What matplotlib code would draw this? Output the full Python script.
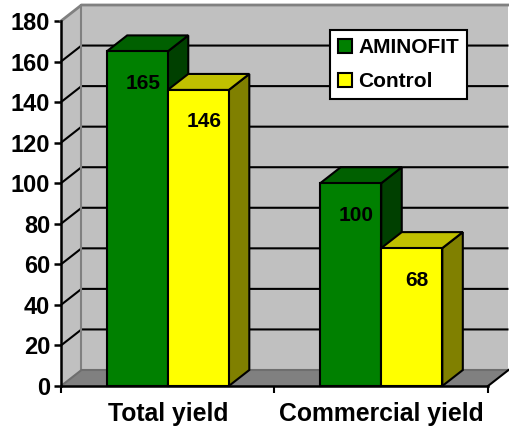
import matplotlib
matplotlib.use("Agg")
import matplotlib.pyplot as plt
from matplotlib.patches import Polygon, Patch

plt.rcParams['font.family'] = ['Liberation Sans', 'DejaVu Sans']
plt.rcParams['font.weight'] = 'bold'

categories = ['Total yield', 'Commercial yield']
aminofit = [165, 100]
control = [146, 68]
yticks = list(range(0, 181, 20))

W, H = 510, 434
X0, X1, Y0, Y1 = 61, 488, 386, 21
DX_PX, DY_PX = 20.5, 16
LW = 1.5

fig = plt.figure(figsize=(W / 100, H / 100), dpi=100)
ax = fig.add_axes([X0 / W, 1 - Y0 / H, (X1 - X0) / W, (Y0 - Y1) / H])
ax.set_xlim(0, 2)
ax.set_ylim(0, 180)
dx = DX_PX / (X1 - X0) * 2
dy = DY_PX / (Y0 - Y1) * 180
BAR = 0.286

def poly(pts, fc, ec='none', lw=0, z=1):
    ax.add_patch(Polygon(pts, closed=True, facecolor=fc, edgecolor=ec, linewidth=lw,
                         zorder=z, clip_on=False, joinstyle='miter'))

# Walls and floor
poly([(dx, dy), (2 + dx, dy), (2 + dx, 180 + dy), (dx, 180 + dy)], '#C0C0C0')
poly([(0, 0), (dx, dy), (dx, 180 + dy), (0, 180)], '#C0C0C0')
poly([(0, 0), (2, 0), (2 + dx, dy), (dx, dy)], '#808080')

# Gridlines
for v in yticks[1:-1]:
    ax.plot([0, dx, 2 + dx], [v, v + dy, v + dy], color='black', lw=LW, zorder=2,
            clip_on=False, solid_capstyle='butt')

# Wall edges
ax.plot([0, dx, 2 + dx], [180, 180 + dy, 180 + dy], color='#808080', lw=LW + 0.5, zorder=2, clip_on=False)
ax.plot([dx, dx], [dy, 180 + dy], color='#808080', lw=LW, zorder=2, clip_on=False)
ax.plot([0, dx, 2 + dx], [0, dy, dy], color='#6E6E6E', lw=LW, zorder=2, clip_on=False)
ax.plot([2, 2 + dx], [0, dy], color='black', lw=LW, zorder=2, clip_on=False)

# Bars
series = [(aminofit, '#008000', '#006000', '#004000', -BAR / 2, 'AMINOFIT'),
          (control, '#FFFF00', '#C0C000', '#808000', BAR / 2, 'Control')]
for s, (vals, front, top, side, off, name) in enumerate(series):
    for i, v in enumerate(vals):
        c = i + 0.5 + off
        l, r = c - BAR / 2, c + BAR / 2
        z = 3 + i * 3 + s * 3
        poly([(r, 0), (r + dx, dy), (r + dx, v + dy), (r, v)], side, 'black', LW, z)
        poly([(l, v), (r, v), (r + dx, v + dy), (l + dx, v + dy)], top, 'black', LW, z)
        ax.bar(c, v, width=BAR, color=front, edgecolor='black', linewidth=LW, zorder=z + 1, clip_on=False)
        ax.annotate(str(v), (c, v), xytext=(4.0, -23), textcoords='offset points',
                    ha='center', va='center', fontsize=15, fontweight='bold', color='black',
                    zorder=30, annotation_clip=False)

# Axes
for sp in ('top', 'right'):
    ax.spines[sp].set_visible(False)
for sp in ('left', 'bottom'):
    ax.spines[sp].set_linewidth(LW + 0.3)
    ax.spines[sp].set_zorder(20)
ax.set_yticks(yticks)
ax.tick_params(axis='y', labelsize=17, width=LW + 0.3, length=5, pad=2.8)
ax.set_xticks([0, 1, 2])
ax.set_xticklabels([])
ax.tick_params(axis='x', width=LW, length=5)
ax.set_xticks([0.5, 1.5], minor=True)
ax.set_xticklabels(categories, minor=True, fontsize=17.8, fontweight='bold')
ax.tick_params(axis='x', which='minor', length=0, pad=11.5)

# Legend
handles = [Patch(facecolor=series[0][1], edgecolor='black', linewidth=LW, label='AMINOFIT'),
           Patch(facecolor=series[1][1], edgecolor='black', linewidth=LW, label='Control')]
leg = ax.legend(handles=handles, loc='upper left',
                bbox_to_anchor=(330 / W, 1 - 30.5 / H), bbox_transform=fig.transFigure,
                prop={'size': 15, 'weight': 'bold'}, fancybox=False, framealpha=1,
                facecolor='white', edgecolor='black', borderaxespad=0, borderpad=0.38,
                handlelength=0.67, handleheight=0.67, handletextpad=0.3, labelspacing=0.72)
leg.get_frame().set_linewidth(LW)
leg.set_zorder(40)

fig.savefig('out.png', dpi=100, facecolor='white')
